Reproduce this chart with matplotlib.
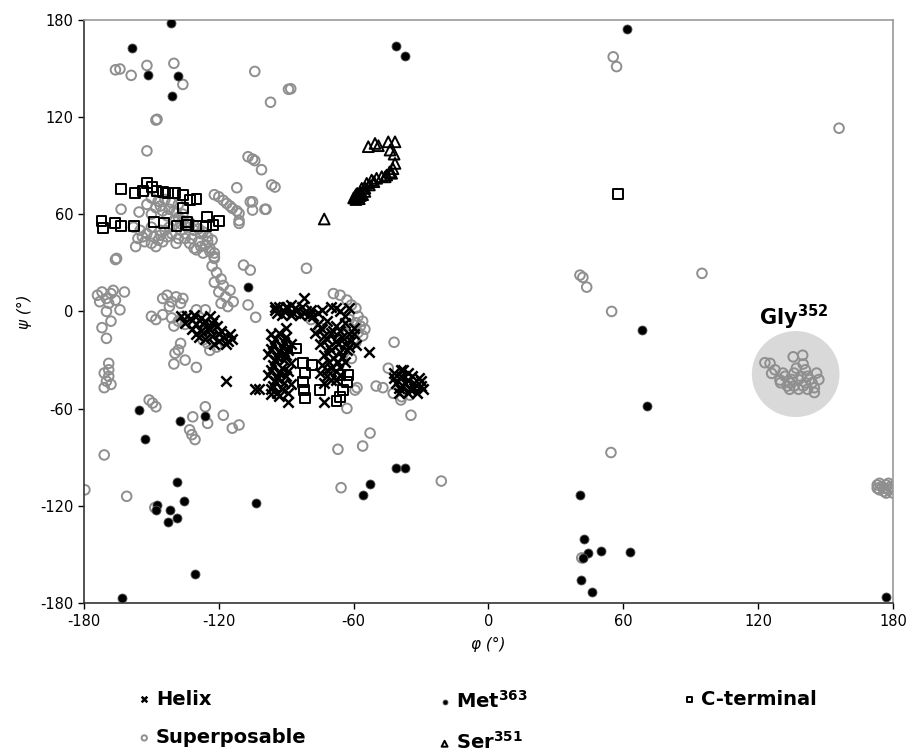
import numpy as np
import matplotlib.pyplot as plt
from matplotlib.patches import Ellipse

plt.rcParams['axes.unicode_minus'] = False
plt.rcParams['font.family'] = ['DejaVu Sans']

# phi / psi angles (degrees)
helix_phi = [-134, -132, -130, -128, -126, -124, -122, -125, -128, -121, -119, -123, -126, -129, -132,
             -118, -116, -114, -120, -137, -117, -102,
             -135, -131, -127, -123, -120, -115, -130, -124, -117, -122,
             -95, -93, -91, -89, -87, -85, -83, -81, -80, -92, -88, -84, -82,
             -94, -90, -86, -82, -79, -88, -95,
             -97, -93, -90, -96, -92, -88, -98, -94, -90, -96, -92, -88, -98, -94, -90, -96, -92, -88, -97, -93,
             -95, -91, -97, -93, -89, -95, -91, -97, -93, -89, -95, -91, -97, -89, -94,
             -104, -89, -90, -73,
             -78, -74, -70, -66, -62, -76, -72, -68, -64, -60, -77, -73, -69, -65, -61, -75, -71, -67, -63, -59,
             -73, -69, -65, -74, -70, -66, -72, -68, -75, -64, -53,
             -76, -68, -64, -74, -70, -66, -62, -72, -68, -64, -60, -70, -66, -62, -71, -67, -72, -68, -70,
             -66, -73,
             -42, -39, -36, -33, -30, -41, -38, -35, -32, -40, -36, -31, -29, -39,
             -37, -34, -40, -33, -30, -36, -42, -38]
helix_psi = [-3, -5, -8, -4, -6, -3, -5, -10, -12, -9, -12, -15, -17, -16, -11,
             -16, -18, -17, -18, -3, -43, -48,
             -7, -2, -8, -7, -14, -14, -14, -11, -20, -20,
             1, 3, 0, 2, -1, 1, 3, 0, -2, -2, 4, -2, 8,
             -1, 3, 2, -1, 1, -2, 3,
             -14, -13, -16, -20, -22, -20, -26, -28, -27, -33, -35, -32, -39, -41, -40, -46, -48, -45, -51, -52,
             -17, -19, -23, -25, -24, -30, -30, -36, -38, -37, -43, -44, -48, -50, -50,
             -48, -56, -10, -56,
             -3, 1, 3, 0, 2, -8, -6, -9, -7, -10, -13, -15, -12, -16, -18, -20, -22, -20, -24, -21,
             -27, -29, -28, -33, -35, -34, -40, -42, -38, -31, -25,
             -1, 2, -3, -11, -13, -12, -14, -17, -18, -20, -14, -24, -25, -22, -31, -31, -36, -37, -42,
             -39, -44,
             -38, -40, -42, -44, -46, -44, -46, -48, -50, -50, -38, -41, -48, -36,
             -44, -40, -47, -47, -43, -50, -41, -36]

sup_phi = [-166, -164, -159, -152, -140, -136, -148, -147.5, -152, -104, -97, -89, -88, -107, -105, -104,
           -101, -95, -112, -106, -105, -99, -96.5,
           -120, -118, -116.5, -115, -114, -112, -111, -111, -122, -105, -99.5, -111,
           -163.5, -155.5, -165.5, -122,
           -150, -147, -144, -141, -138, -148, -145, -142, -139, -136, -150,
           -140, -137, -134, -131, -128, -125, -123, -135, -132, -129, -126, -124, -130, -127,
           -158, -155, -152, -149, -146, -156, -153, -150, -147, -143, -144, -141, -138, -157,
           -152, -146, -143, -140, -138, -136, -133, -131, -129, -127, -125, -128, -124, -133, -137,
           -142, -146, -150, -154, -148, -145, -139, -135, -131, -122,
           -166, -109, -106, -81, -162,
           -174, -172, -170, -168, -166, -173, -169, -167,
           -170, -164, -172, -170, -168, -169,
           -171, -169, -170, -168, -171, -169,
           -151, -149.5, -148,
           -145, -143, -141, -139, -137, -136, -142,
           -148, -150, -145,
           -141, -138, -135, -140, -136,
           -137, -138, -139.5, -140, -135, -130, -127, -125, -125, -123, -121, -124, -130, -126,
           -122, -123, -121, -119, -118, -120, -117, -119, -116, -122, -115,
           -113.6, -107, -103.6,
           -126, -125, -131.6, -133, -132, -130.6, -118, -114, -111, -171, -179.6, -161, -148.5,
           -69, -66, -63, -61, -59,
           -62, -59, -57, -61, -58, -56, -60, -63, -58, -56, -55, -59,
           -79, -75, -61, -42, -44.6, -50, -47, -42.4, -38.6, -35, -34.5, -63, -59.4, -58.5,
           -52.7, -56, -67, -65.6, -21, -39,
           55.5, 57, 156, 40.7, 42, 43.7, 95, 54.8, 54.5, 41.5,
           173, 175, 177, 179, 174, 176, 178, 179.5, 177, 174, 178, 176, 180, 173,
           123, 125.3, 126, 127.5, 135.6, 139.8, 140, 129.7, 132, 134, 136, 138, 140, 142, 144, 146, 145,
           138, 133, 141, 136, 145, 130, 131, 135, 139, 143, 137, 141, 147, 134, 142]
sup_psi = [149, 149.5, 145.6, 151.7, 153, 140, 118, 118.5, 99, 148, 129, 137, 137.3, 95.4, 94, 93,
           87.4, 76.7, 76.3, 67.6, 62.5, 63, 78,
           70.7, 68.5, 66.6, 65, 63.6, 62, 60.5, 54.3, 72, 67.6, 63, 56,
           63, 61.3, 32.7, 32.7,
           70, 68, 69, 67, 66, 64, 62, 63, 61, 60, 60,
           56, 54, 52, 50, 48, 46, 44, 48, 45, 43, 41, 39, 38, 36,
           52, 50, 48, 46, 47, 45, 43, 42, 44, 46, 50, 48, 45, 40,
           66, 65, 59, 62, 58, 56, 55, 53, 51, 49, 43, 40, 37, 42, 50,
           52, 50, 52, 46, 40, 43, 42, 45, 39, 36,
           32, 28.6, 25.5, 26.6, 12,
           10, 12, 8, 11, 7, 6, 5, 13,
           0, 1, -10, -16.6, -6, -32,
           -38, -40, -43, -45, -47, -36,
           -54.6, -56.5, -58.8,
           8, 10, 6, 9, 5, 8, 3,
           -5, -3, -2,
           -4, -6, -8, -9, -3,
           -19.7, -23.8, -25.8, -32.4, -30, -34.5, -17.6, -19.7, -9.4, -13, -22, -24, 1, 1,
           33.7, 28, 24, 20, 16, 12, 9, 5, 3, 18, 13,
           6, 4, -3.6,
           -58.8, -69, -65, -73, -76, -79, -64, -72, -70, -88.5, -110, -114, -121,
           11, 10, 7, 4, 2,
           -5, -7, -9, -11, -13, -15, -17, -14, -3, -6, -11, -19,
           -5, -10, -29, -19, -35, -46, -47, -50.5, -52.6, -51.6, -64, -59.8, -48.5, -47,
           -75, -83, -85, -108.7, -104.6, -54.6,
           157, 151, 113, 22.4, 21, 15, 23.5, 0, -87, -152,
           -107, -108, -107, -108, -110, -111, -110, -109, -112, -106, -106, -109, -112, -109,
           -31.6, -32, -38.2, -36, -28, -27, -32.4, -42.3, -40, -44, -38, -42, -46, -40, -44, -38, -47,
           -48, -46, -36, -46, -50, -44, -38, -42, -40, -42, -35, -44, -42, -48, -48]

met_phi = [-141.3, -158.8, -151.7, -138.2, -140.9, -41.2, -37.3, 61.5, -106.9, -155.5, -137.3, -126.2,
           -152.9, -138.5, -135.5, -147.4, -148.1, -141.7, -142.5, -138.8, -130.6, -163.2, -103.6,
           -56, -52.7, -41.3, -37.2, 68.2, 70.4, 40.7, 42.6, 44.4, 42, 50.1, 63, 41, 46.2, 176.9]
met_psi = [177.6, 162.6, 146, 145, 132.6, 163.8, 157.5, 174.1, 15.2, -60.8, -67.4, -64.5,
           -78.7, -105.4, -116.9, -119.4, -122.5, -122.5, -129.7, -127.6, -161.9, -176.9, -118,
           -113.2, -106.6, -96.6, -96.6, -11.5, -58.3, -113.2, -140.3, -149.2, -152, -147.6, -148.6,
           -165.6, -173.2, -176.3]

ser_phi = [-73.1, -53.5, -50.5, -49, -44.6, -41.6, -43.8, -42, -41.6, -43.1, -45.3, -47.5, -49.8, -52,
           -54.2, -56.4, -58.4, -59.4, -57, -58, -55, -60, -57.5,
           -59, -58.5, -57, -56, -59, -55, -53, -51, -46, -44, -42.5]
ser_psi = [57, 101.6, 103.6, 102.2, 104.6, 104.6, 99.5, 97, 91.3, 85.2, 84.1, 83.1, 82.1, 81,
           79, 75.9, 72.8, 70.7, 73, 71, 74, 70, 69.5,
           69, 70.5, 71.5, 72, 72, 76, 78, 80, 83, 86, 88]

cterm_phi = [-163.5, -157.3, -153.6, -151.8, -149.9, -147.7, -144.7, -142.5, -139.5, -135.8, -132.8,
             -129.9, -136.1, -172.2, -171.4, -166.2, -163.5, -157.8, -148.7, -144.3, -138.8, -134.3,
             -133.6, -130.2, -125.4, -125.7, -122.5, -119.8,
             -85.4, -82.4, -78.7, -81.7, -82.4, -82, -81.7, -75, -66.1, -62.4, -63.1, -64.6, -66.1,
             -67.6, 57.8]
cterm_psi = [75.3, 73.2, 74.2, 79.4, 76.9, 74.4, 73.8, 73.2, 72.8, 71.8, 68.7,
             69.3, 63.6, 55.9, 51.6, 54.7, 52.8, 52.7, 55.3, 54.7, 52.8, 55.3,
             53.3, 52.8, 58.4, 52.7, 53.3, 55.7,
             -22.8, -32, -33, -38.2, -43.3, -48.5, -53.6, -48.5, -39.2, -39.2, -43.3, -48.5, -52.6,
             -55.2, 72.4]

ticks = [-180, -120, -60, 0, 60, 120, 180]

fig = plt.figure(figsize=(9.1, 7.52), dpi=100)
ax = fig.add_axes([0.0923, 0.1977, 0.889, 0.7763])

# shaded highlight around the Gly352 cluster
ax.add_patch(Ellipse((136.7, -38.6), 39, 53, facecolor='#d9d9d9', edgecolor='none', zorder=0))

h_sup = ax.scatter(sup_phi, sup_psi, s=48, facecolors='none', edgecolors='#8f8f8f', linewidths=1.4, zorder=2)
h_helix = ax.scatter(helix_phi, helix_psi, s=55, marker='x', color='black', linewidths=1.8, zorder=3)
h_cterm = ax.scatter(cterm_phi, cterm_psi, s=50, marker='s', facecolors='none', edgecolors='black',
                     linewidths=1.4, zorder=4)
h_ser = ax.scatter(ser_phi, ser_psi, s=60, marker='^', facecolors='none', edgecolors='black',
                   linewidths=1.4, zorder=4)
h_met = ax.scatter(met_phi, met_psi, s=42, color='black', edgecolors='#555555', linewidths=0.6, zorder=5)

ax.text(136, -3.5, r'Gly$^{\mathbf{352}}$', fontsize=15, fontweight='bold', ha='center', va='center')

ax.set_xlim(-180, 180)
ax.set_ylim(-180, 180)
ax.set_xticks(ticks)
ax.set_yticks(ticks)
ax.tick_params(labelsize=10.5, length=4, width=1, direction='out')
ax.set_xlabel('φ (°)', fontsize=11, style='italic', labelpad=6)
ax.set_ylabel('ψ (°)', fontsize=11, style='italic', labelpad=6)
for side in ['top', 'right']:
    ax.spines[side].set_color('#9a9a9a')
    ax.spines[side].set_linewidth(1.2)
for side in ['left', 'bottom']:
    ax.spines[side].set_color('#333333')
    ax.spines[side].set_linewidth(1.2)

# legend laid out in three columns below the plot
leg_font = {'size': 14, 'weight': 'bold'}
cols = [([h_helix, h_sup], ['Helix', 'Superposable'], 0.150),
        ([h_met, h_ser], [r'Met$^{\mathbf{363}}$', r'Ser$^{\mathbf{351}}$'], 0.480),
        ([h_cterm], ['C-terminal'], 0.749)]
for handles, labels, x0 in cols:
    fig.legend(handles, labels, loc='upper left', bbox_to_anchor=(x0, 0.083),
               bbox_transform=fig.transFigure, frameon=False, prop=leg_font,
               markerscale=0.55, handletextpad=0.2, handlelength=0.8, labelspacing=1.0,
               borderpad=0, borderaxespad=0)

fig.savefig('out.png', dpi=100)
